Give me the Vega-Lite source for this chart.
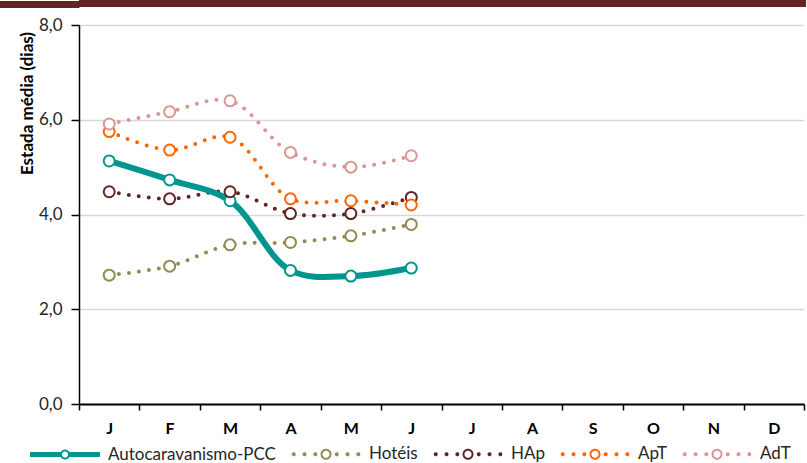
{
  "$schema": "https://vega.github.io/schema/vega-lite/v6.json",
  "padding": {"left": -5, "top": 0, "right": 0, "bottom": 0},
  "background": "white",
  "spacing": 8,
  "config": {"view": {"stroke": null}, "font": "Lato"},
  "vconcat": [
    {
      "width": 727,
      "height": 7,
      "data": {"values": []},
      "mark": "point",
      "encoding": {
        "y": {
          "field": "a", "type": "quantitative",
          "scale": {"domain": [0, 1]},
          "axis": {"values": [0.5], "tickSize": 80, "tickWidth": 7, "tickColor": "#632523", "tickCap": "butt",
                   "labels": false, "domain": false, "grid": false, "title": null}
        }
      },
      "view": {"fill": "#632523", "stroke": null}
    },
    {
      "width": 725,
      "height": 379,
      "data": {"values": [
        {"s": "Autocaravanismo-PCC", "m": 1, "v": 5.13},
        {"s": "Autocaravanismo-PCC", "m": 2, "v": 4.73},
        {"s": "Autocaravanismo-PCC", "m": 3, "v": 4.29},
        {"s": "Autocaravanismo-PCC", "m": 4, "v": 2.82},
        {"s": "Autocaravanismo-PCC", "m": 5, "v": 2.70},
        {"s": "Autocaravanismo-PCC", "m": 6, "v": 2.87},
        {"s": "Hotéis", "m": 1, "v": 2.72},
        {"s": "Hotéis", "m": 2, "v": 2.91},
        {"s": "Hotéis", "m": 3, "v": 3.36},
        {"s": "Hotéis", "m": 4, "v": 3.41},
        {"s": "Hotéis", "m": 5, "v": 3.55},
        {"s": "Hotéis", "m": 6, "v": 3.79},
        {"s": "HAp", "m": 1, "v": 4.48},
        {"s": "HAp", "m": 2, "v": 4.33},
        {"s": "HAp", "m": 3, "v": 4.48},
        {"s": "HAp", "m": 4, "v": 4.02},
        {"s": "HAp", "m": 5, "v": 4.02},
        {"s": "HAp", "m": 6, "v": 4.36},
        {"s": "ApT", "m": 1, "v": 5.75},
        {"s": "ApT", "m": 2, "v": 5.36},
        {"s": "ApT", "m": 3, "v": 5.63},
        {"s": "ApT", "m": 4, "v": 4.33},
        {"s": "ApT", "m": 5, "v": 4.29},
        {"s": "ApT", "m": 6, "v": 4.20},
        {"s": "AdT", "m": 1, "v": 5.91},
        {"s": "AdT", "m": 2, "v": 6.17},
        {"s": "AdT", "m": 3, "v": 6.40},
        {"s": "AdT", "m": 4, "v": 5.31},
        {"s": "AdT", "m": 5, "v": 5.00},
        {"s": "AdT", "m": 6, "v": 5.24}
      ]},
      "encoding": {
        "x": {
          "field": "m", "type": "ordinal",
          "scale": {"domain": [1,2,3,4,5,6,7,8,9,10,11,12], "paddingInner": 0, "paddingOuter": 0},
          "axis": {
            "labelExpr": "['J','F','M','A','M','J','J','A','S','O','N','D'][datum.value-1]",
            "labelAngle": 0, "labelFont": "Lato", "labelFontSize": 16, "labelFontWeight": "bold",
            "labelColor": "black", "labelPadding": 10, "tickSize": 6, "tickColor": "black",
            "tickWidth": 1.5, "tickBand": "extent", "domainColor": "black", "domainWidth": 2,
            "grid": false, "title": null
          }
        },
        "y": {
          "field": "v", "type": "quantitative",
          "scale": {"domain": [0, 8], "nice": false},
          "axis": {
            "values": [0, 2, 4, 6, 8],
            "labelExpr": "replace(format(datum.value,'.1f'),'.',',')",
            "labelFont": "Lato", "labelFontSize": 17, "labelColor": "#262626", "labelPadding": 9,
            "tickSize": 8, "tickColor": "black", "tickWidth": 1.5,
            "domainColor": "black", "domainWidth": 1.5,
            "gridColor": "#D9D9D9", "gridWidth": 1.5,
            "title": "Estada média (dias)",
            "titleFont": "Lato", "titleFontSize": 17, "titleFontWeight": "bold", "titleColor": "black",
            "titleAngle": -90, "titleX": -43, "titleY": 78, "titleAlign": "center",
            "titleBaseline": "bottom", "titleLimit": 400
          }
        },
        "color": {
          "field": "s", "type": "nominal",
          "scale": {
            "domain": ["Autocaravanismo-PCC", "Hotéis", "HAp", "ApT", "AdT"],
            "range": ["#00968F", "#948A54", "#632523", "#FF6600", "#DA9694"]
          },
          "legend": {
            "orient": "none", "legendX": -50, "legendY": 418,
            "direction": "horizontal", "columns": 5, "title": null,
            "symbolSize": 4900, "symbolStrokeWidth": 2, "symbolFillColor": "white",
            "labelFont": "Lato", "labelFontSize": 17, "labelColor": "#262626",
            "labelOffset": 7, "columnPadding": 12, "labelLimit": 300,
            "encode": {
              "symbols": {
                "update": {
                  "shape": {"signal": "datum.value === 'Autocaravanismo-PCC' ? 'M-1,-0.043L-0.104,-0.043M0.104,-0.043L1,-0.043M-1,0L-0.114,0M0.114,0L1,0M-1,0.043L-0.104,0.043M0.104,0.043L1,0.043M-0.114,0A0.114,0.114,0,1,0,0.114,0A0.114,0.114,0,1,0,-0.114,0Z' : 'M-0.952,0A0.029,0.029,0,1,0,-0.894,0A0.029,0.029,0,1,0,-0.952,0ZM-0.643,0A0.029,0.029,0,1,0,-0.585,0A0.029,0.029,0,1,0,-0.643,0ZM-0.335,0A0.029,0.029,0,1,0,-0.277,0A0.029,0.029,0,1,0,-0.335,0ZM0.277,0A0.029,0.029,0,1,0,0.335,0A0.029,0.029,0,1,0,0.277,0ZM0.585,0A0.029,0.029,0,1,0,0.643,0A0.029,0.029,0,1,0,0.585,0ZM0.894,0A0.029,0.029,0,1,0,0.952,0A0.029,0.029,0,1,0,0.894,0ZM-0.129,0A0.129,0.129,0,1,0,0.129,0A0.129,0.129,0,1,0,-0.129,0Z'"},
                  "fill": {"value": "white"},
                  "fillOpacity": {"value": 1},
                  "strokeWidth": {"value": 2},
                  "strokeDash": {"value": [1, 0]},
                  "opacity": {"value": 1},
                  "stroke": {"scale": "color", "field": "value"}
                }
              }
            }
          }
        }
      },
      "layer": [
        {
          "transform": [{"filter": "datum.s !== 'Autocaravanismo-PCC'"}],
          "mark": {"type": "line", "interpolate": "catmull-rom", "strokeWidth": 4, "strokeDash": [0, 10], "strokeCap": "round", "strokeJoin": "round"}
        },
        {
          "transform": [{"filter": "datum.s === 'Autocaravanismo-PCC'"}],
          "mark": {"type": "line", "interpolate": "catmull-rom", "strokeWidth": 6, "strokeCap": "round", "strokeJoin": "round"}
        },
        {
          "mark": {"type": "point", "shape": "circle", "filled": false, "fill": "white", "fillOpacity": 1, "opacity": 1, "size": 121, "strokeWidth": 2}
        }
      ]
    }
  ]
}
